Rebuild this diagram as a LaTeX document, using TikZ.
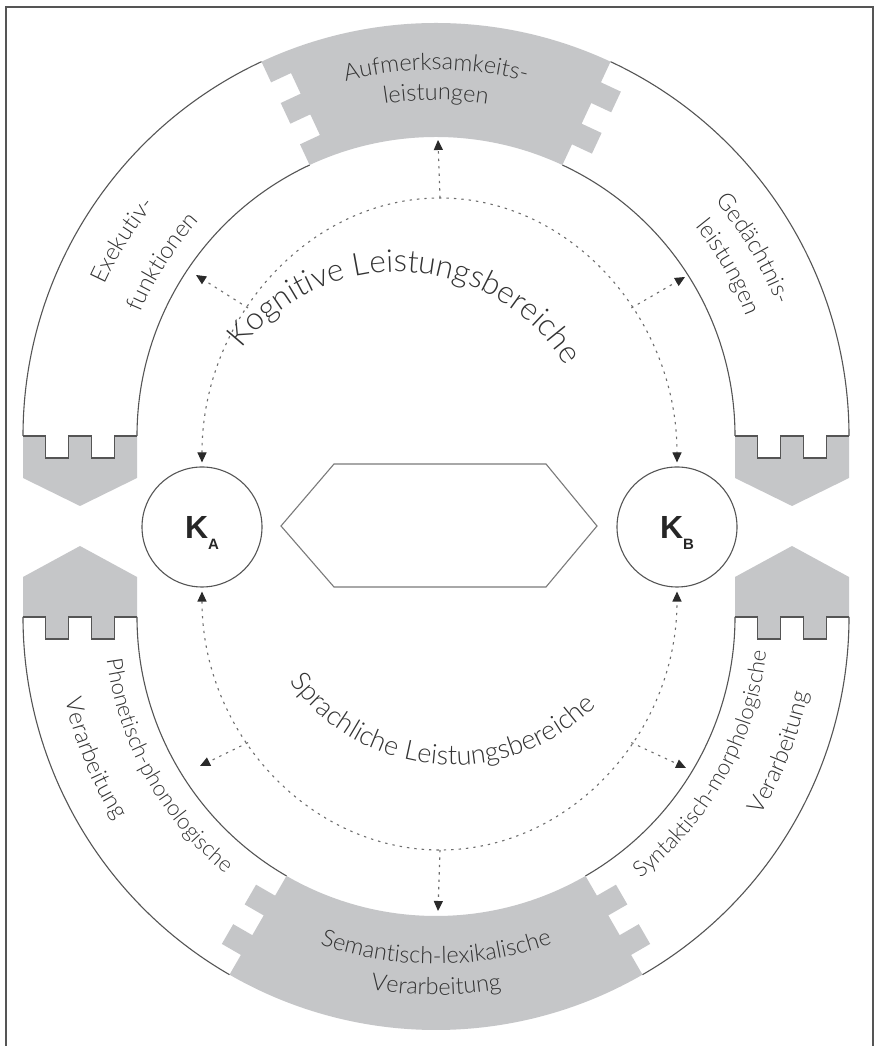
\documentclass[tikz,border=0pt]{standalone}
\usepackage{fontspec}
\setmainfont{Lato Light}
\newfontfamily\kfont{Liberation Sans}
\usetikzlibrary{arrows.meta,calc,decorations.text}
\definecolor{greyfill}{HTML}{C5C6C8}
\definecolor{ringc}{HTML}{555555}
\definecolor{hexc}{HTML}{7A7A7A}
\definecolor{dotc}{HTML}{6E6E6E}
\definecolor{txt}{HTML}{333333}
\definecolor{tipc}{HTML}{2A2A2A}
\begin{document}
\begin{tikzpicture}[x=1pt,y=1pt,
  ringline/.style={draw=ringc,line width=1.1pt},
  greypiece/.style={fill=greyfill},
  dotline/.style={draw=dotc,line width=1.1pt,dash pattern=on 2.4pt off 5pt},
  tipend/.style={-{Triangle[length=10pt,width=9pt,color=tipc]}},
  tipboth/.style={{Triangle[length=10pt,width=9pt,color=tipc]}-{Triangle[length=10pt,width=9pt,color=tipc]}},
  kcircle/.style={draw=ringc,line width=1.1pt,circle,minimum size=120pt,inner sep=0pt,text=black!85},
  seglabel/.style={decorate,decoration={text along path,text align=center,text color=txt,text={|\fontsize{23.5}{23.5}\selectfont|#1}}},
  sizedlabel/.style n args={2}{decorate,decoration={text along path,text align=center,text color=txt,text={|\fontsize{#1}{#1}\selectfont|#2}}},
  topconn/.pic={
    \fill[greypiece] (0,0) -- (22.8,0) -- (22.8,-22) -- (45.6,-22) -- (45.6,0) -- (68.4,0) -- (68.4,-22) -- (91.2,-22) -- (91.2,0) -- (114,0) -- (114,-42) -- (57,-70) -- (0,-42) -- cycle;
    \draw[ringline] (0,0) -- (22.8,0) -- (22.8,-22) -- (45.6,-22) -- (45.6,0) -- (68.4,0) -- (68.4,-22) -- (91.2,-22) -- (91.2,0) -- (114,0);
  },
  botconn/.pic={
    \fill[greypiece] (0,0) -- (0,40) -- (57,71) -- (114,40) -- (114,0) -- (91.2,0) -- (91.2,-22) -- (68.4,-22) -- (68.4,0) -- (45.6,0) -- (45.6,-22) -- (22.8,-22) -- (22.8,0) -- cycle;
    \draw[ringline] (0,0) -- (22.8,0) -- (22.8,-22) -- (45.6,-22) -- (45.6,0) -- (68.4,0) -- (68.4,-22) -- (91.2,-22) -- (91.2,0) -- (114,0);
  }
]
\useasboundingbox (0,0) rectangle (875,1046);
\fill[white] (0,0) rectangle (875,1046);
% frame
\draw[draw=ringc,line width=1.3pt] (6,0) -- (6,1039) -- (873,1039) -- (873,0);

\coordinate (T) at (436,610);
\coordinate (B) at (436,429);

% top grey piece
\fill[greypiece] ($(T)+(115:413)$) arc[start angle=115,end angle=65,radius=413]
  -- ($(T)+(65:390.2)$) -- ($(T)+(65:390.2)+(-25:22)$) -- ($(T)+(65:367.4)+(-25:22)$) -- ($(T)+(65:367.4)$)
  -- ($(T)+(65:344.6)$) -- ($(T)+(65:344.6)+(-25:22)$) -- ($(T)+(65:321.8)+(-25:22)$) -- ($(T)+(65:321.8)$)
  -- ($(T)+(65:299)$) arc[start angle=65,end angle=115,radius=299]
  -- ($(T)+(115:321.8)$) -- ($(T)+(115:321.8)+(25:22)$) -- ($(T)+(115:344.6)+(25:22)$) -- ($(T)+(115:344.6)$)
  -- ($(T)+(115:367.4)$) -- ($(T)+(115:367.4)+(25:22)$) -- ($(T)+(115:390.2)+(25:22)$) -- ($(T)+(115:390.2)$) -- cycle;

% bottom grey piece
\fill[greypiece] ($(B)+(-120:413)$) arc[start angle=-120,end angle=-60,radius=413]
  -- ($(B)+(-60:390.2)$) -- ($(B)+(-60:390.2)+(30:22)$) -- ($(B)+(-60:367.4)+(30:22)$) -- ($(B)+(-60:367.4)$)
  -- ($(B)+(-60:344.6)$) -- ($(B)+(-60:344.6)+(30:22)$) -- ($(B)+(-60:321.8)+(30:22)$) -- ($(B)+(-60:321.8)$)
  -- ($(B)+(-60:299)$) arc[start angle=-60,end angle=-120,radius=299]
  -- ($(B)+(-120:321.8)$) -- ($(B)+(-120:321.8)+(150:22)$) -- ($(B)+(-120:344.6)+(150:22)$) -- ($(B)+(-120:344.6)$)
  -- ($(B)+(-120:367.4)$) -- ($(B)+(-120:367.4)+(150:22)$) -- ($(B)+(-120:390.2)+(150:22)$) -- ($(B)+(-120:390.2)$) -- cycle;

% connectors
\pic at (23,610) {topconn};
\pic at (735,610) {topconn};
\pic at (23,429) {botconn};
\pic at (735,429) {botconn};

% white pieces outlines
\draw[ringline] ($(T)+(115:413)$) arc[start angle=115,end angle=180,radius=413];
\draw[ringline] ($(T)+(115:299)$) arc[start angle=115,end angle=180,radius=299];
\draw[ringline] ($(T)+(0:413)$) arc[start angle=0,end angle=65,radius=413];
\draw[ringline] ($(T)+(0:299)$) arc[start angle=0,end angle=65,radius=299];
\draw[ringline] ($(B)+(180:413)$) arc[start angle=180,end angle=240,radius=413];
\draw[ringline] ($(B)+(180:299)$) arc[start angle=180,end angle=240,radius=299];
\draw[ringline] ($(B)+(-60:413)$) arc[start angle=-60,end angle=0,radius=413];
\draw[ringline] ($(B)+(-60:299)$) arc[start angle=-60,end angle=0,radius=299];

% centre hexagon
\draw[draw=hexc,line width=1.1pt] (281,520) -- (334,582) -- (546,582) -- (597,520) -- (546,459) -- (334,459) -- cycle;

% K circles
\node[kcircle] (KA) at (202,519) {\kfont\bfseries\fontsize{32}{32}\selectfont K\smash{\raisebox{-11pt}{\fontsize{15}{15}\selectfont A}}};
\node[kcircle] (KB) at (677,519) {\kfont\bfseries\fontsize{32}{32}\selectfont K\smash{\raisebox{-11pt}{\fontsize{15}{15}\selectfont B}}};

% dotted arcs
\coordinate (ktop) at (440,848);
\coordinate (kbot) at (440,196);
\draw[dotline,tipboth,shorten <=4pt,shorten >=4pt] (KA.north) .. controls +(0,148) and +(-131,0) .. coordinate[pos=0.4] (e1) (ktop)
  .. controls +(131,0) and +(0,148) .. coordinate[pos=0.6] (e2) (KB.north);
\draw[dotline,tipboth,shorten <=4pt,shorten >=4pt] (KA.south) .. controls +(0,-145) and +(-131,0) .. coordinate[pos=0.4] (e3) (kbot)
  .. controls +(131,0) and +(0,-145) .. coordinate[pos=0.6] (e4) (KB.south);

\coordinate (atop) at (438,906);
\coordinate (abot) at (438,135);
\coordinate (atl) at (196,771);
\coordinate (atr) at (685,769);
\coordinate (abl) at (200,280);
\coordinate (abr) at (686,278);
\draw[dotline,tipend] (ktop) -- (atop);
\draw[dotline,tipend] (kbot) -- (abot);
\draw[dotline,tipend] (e1) -- (atl);
\draw[dotline,tipend] (e2) -- (atr);
\draw[dotline,tipend] (e3) -- (abl);
\draw[dotline,tipend] (e4) -- (abr);

% labels in the ring
\path[seglabel={Aufmerksamkeits-}] ($(T)+(125:366)$) arc[start angle=125,end angle=55,radius=366];
\path[seglabel={leistungen}] ($(T)+(125:336)$) arc[start angle=125,end angle=55,radius=336];
\path[seglabel={Semantisch-lexikalische}] ($(B)+(-130:347)$) arc[start angle=-130,end angle=-50,radius=347];
\path[seglabel={Verarbeitung}] ($(B)+(-130:378)$) arc[start angle=-130,end angle=-50,radius=378];
\path[seglabel={Exekutiv-}] ($(T)+(175:364)$) arc[start angle=175,end angle=121,radius=364];
\path[seglabel={funktionen}] ($(T)+(175:320)$) arc[start angle=175,end angle=120,radius=320];
\path[seglabel={Gedächtnis-}] ($(T)+(57:365)$) arc[start angle=57,end angle=4,radius=365];
\path[seglabel={leistungen}] ($(T)+(57:333)$) arc[start angle=57,end angle=3,radius=333];
\path[sizedlabel={22}{Phonetisch-phonologische}] ($(B)+(175:332)$) arc[start angle=175,end angle=243,radius=332];
\path[seglabel={Verarbeitung}] ($(B)+(175:380)$) arc[start angle=175,end angle=230,radius=380];
\path[sizedlabel={22}{Syntaktisch-morphologische}] ($(B)+(-64:332)$) arc[start angle=-64,end angle=6,radius=332];
\path[seglabel={Verarbeitung}] ($(B)+(-50:380)$) arc[start angle=-50,end angle=7,radius=380];

% inner labels
\path[sizedlabel={31.5}{Kognitive Leistungsbereiche}] ($(398,577)+(167:197)$) arc[start angle=167,end angle=7,radius=197];
\path[sizedlabel={27}{Sprachliche Leistungsbereiche}] ($(453,483)+(-175:202)$) arc[start angle=-175,end angle=-14,radius=202];
\end{tikzpicture}
\end{document}
